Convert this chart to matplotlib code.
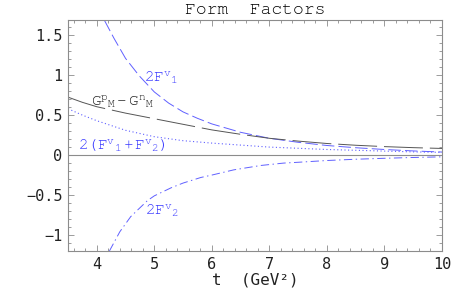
import matplotlib
matplotlib.use("Agg")
import matplotlib.pyplot as plt
from matplotlib.ticker import MultipleLocator, FixedLocator
from matplotlib import font_manager

names = {f.name for f in font_manager.fontManager.ttflist}
serif_mono = 'Liberation Mono'
for cand in ['Courier New', 'Nimbus Mono PS', 'Nimbus Mono L', 'FreeMono', 'Courier', 'Liberation Mono']:
    if cand in names:
        serif_mono = cand
        break

plt.rcParams['lines.scale_dashes'] = False
plt.rcParams['mathtext.fontset'] = 'custom'
plt.rcParams['mathtext.rm'] = serif_mono
plt.rcParams['mathtext.it'] = serif_mono
plt.rcParams['mathtext.bf'] = serif_mono
plt.rcParams['mathtext.default'] = 'rm'

# ---- data ----
t_f1 = [4.13, 4.3, 4.5, 4.74, 5.0, 5.25, 5.5, 5.75, 6.0, 6.5, 7.0, 7.5, 8.0, 8.5, 9.0, 9.5, 10.0]
f1 = [1.69, 1.46, 1.21, 0.99, 0.79, 0.65, 0.54, 0.46, 0.39, 0.285, 0.21, 0.16, 0.12, 0.092, 0.07, 0.052, 0.038]

t_gm = [3.5, 3.75, 4.0, 4.5, 5.0, 5.5, 6.0, 6.5, 7.0, 7.5, 8.0, 8.5, 9.0, 9.5, 10.0]
gm = [0.725, 0.66, 0.605, 0.525, 0.455, 0.385, 0.315, 0.26, 0.21, 0.175, 0.145, 0.123, 0.106, 0.093, 0.083]

t_sum = [3.5, 3.75, 4.0, 4.5, 5.0, 5.5, 6.0, 6.5, 7.0, 7.5, 8.0, 8.5, 9.0, 9.5, 10.0]
fsum = [0.58, 0.50, 0.43, 0.31, 0.23, 0.18, 0.15, 0.125, 0.10, 0.085, 0.07, 0.06, 0.05, 0.04, 0.034]

t_f2 = [4.22, 4.4, 4.59, 4.88, 5.0, 5.29, 5.5, 5.81, 6.0, 6.38, 6.85, 7.25, 7.5, 8.0, 8.5, 9.0, 9.5, 10.0]
f2 = [-1.2, -0.96, -0.77, -0.57, -0.51, -0.41, -0.35, -0.28, -0.25, -0.185, -0.13, -0.10, -0.09, -0.068, -0.052, -0.04, -0.03, -0.022]

x_ticks = [4, 5, 6, 7, 8, 9, 10]
y_ticks = [-1, -0.5, 0, 0.5, 1, 1.5]
y_ticklabels = ["\u22121", "\u22120.5", "0", "0.5", "1", "1.5"]

blue_line = '#6060ff'
blue_text = '#3a3aff'
gray = '#8c8c8c'

fig = plt.figure(figsize=(4.71, 2.91), dpi=100)
ax = fig.add_axes([68/471, 40/291, (442-68)/471, (251-20)/291])

ax.axhline(0, color=gray, lw=0.8, zorder=1)
ax.plot(t_f1, f1, color=blue_line, lw=0.7, dashes=(9, 3))
ax.plot(t_gm, gm, color='#555555', lw=0.7, dashes=(28, 5))
ax.plot(t_sum, fsum, color=blue_line, lw=0.8, dashes=(0.8, 1.8))
ax.plot(t_f2, f2, color=blue_line, lw=0.7, dashes=(6, 2.5, 1, 2.5))

ax.set_xlim(3.5, 10)
ax.set_ylim(-1.2, 1.69)

mono = 'DejaVu Sans Mono'
ax.xaxis.set_major_locator(FixedLocator(x_ticks))
ax.xaxis.set_minor_locator(MultipleLocator(0.2))
ax.yaxis.set_major_locator(FixedLocator(y_ticks))
ax.yaxis.set_minor_locator(MultipleLocator(0.1))
ax.set_xticklabels([str(v) for v in x_ticks], fontfamily=mono, fontsize=11, color='#222222')
ax.set_yticklabels(y_ticklabels, fontfamily=mono, fontsize=11, color='#222222')
ax.tick_params(which='both', direction='in', top=True, right=True, color=gray, width=0.6)
ax.tick_params(which='major', length=4, pad=4)
ax.tick_params(which='minor', length=2)
for s in ax.spines.values():
    s.set_color(gray)
    s.set_linewidth(0.8)

ax.set_xlabel("t  (GeV²)", fontfamily=mono, fontsize=11.5, labelpad=1, color='#222222')
ax.set_title("Form  Factors", fontfamily=serif_mono, fontsize=13, pad=4)

lab = dict(fontsize=11.5, color=blue_text)
ax.text(4.82, 0.92, r"$2{F^{v}}_{1}$", **lab)
ax.text(3.90, 0.60, r"${G^{p}}_{M}-{G^{n}}_{M}$", fontsize=11.5, color='#222222')
ax.text(3.68, 0.06, r"$2({F^{v}}_{1}+{F^{v}}_{2})$", **lab)
ax.text(4.83, -0.75, r"$2{F^{v}}_{2}$", **lab)

fig.savefig("out.png", dpi=100)
